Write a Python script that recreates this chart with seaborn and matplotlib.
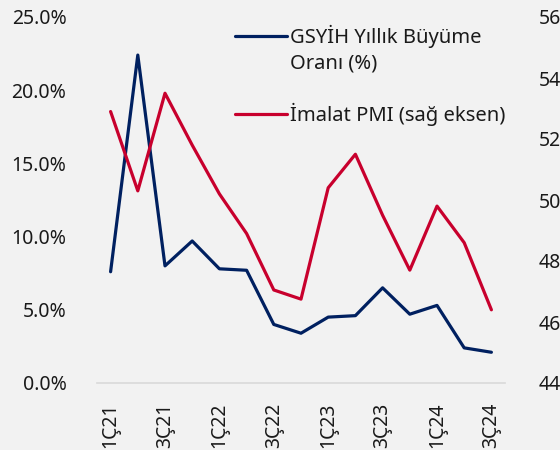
import numpy as np
import matplotlib
matplotlib.use('Agg')
import matplotlib.pyplot as plt
import matplotlib.ticker as mtick
import seaborn as sns
import pandas as pd

sns.set_style('white')
plt.rcParams['font.family'] = ['Noto Sans', 'DejaVu Sans']

quarters = ['1Ç21', '2Ç21', '3Ç21', '4Ç21', '1Ç22', '2Ç22', '3Ç22', '4Ç22',
            '1Ç23', '2Ç23', '3Ç23', '4Ç23', '1Ç24', '2Ç24', '3Ç24']
gdp_growth = [7.6, 22.4, 8.0, 9.7, 7.8, 7.7, 4.0, 3.4,
              4.5, 4.6, 6.5, 4.7, 5.3, 2.4, 2.1]
pmi = [52.9, 50.3, 53.5, 51.8, 50.2, 48.9, 47.05, 46.75,
       50.4, 51.5, 49.5, 47.7, 49.8, 48.6, 46.4]

df = pd.DataFrame({'idx': np.arange(len(quarters)), 'q': quarters,
                   'gdp': gdp_growth, 'pmi': pmi})

bg = '#F2F2F2'
navy = '#002060'
red = '#C8002D'

fig = plt.figure(figsize=(5.6, 4.5), dpi=100, facecolor=bg)
ax = fig.add_axes([97 / 560, 67 / 450, 408 / 560, 366 / 450])
ax.set_facecolor(bg)
ax2 = ax.twinx()

sns.lineplot(data=df, x='idx', y='gdp', ax=ax, color=navy, linewidth=2.3,
             label='GSYİH Yıllık Büyüme\nOranı (%)', legend=False)
sns.lineplot(data=df, x='idx', y='pmi', ax=ax2, color=red, linewidth=2.3,
             label='İmalat PMI (sağ eksen)', legend=False)

ax.set_xlim(-0.5, len(quarters) - 0.5)
ax.set_ylim(0, 25)
ax.set_yticks([0, 5, 10, 15, 20, 25])
ax.yaxis.set_major_formatter(mtick.FuncFormatter(lambda v, p: f'{v:.1f}%'))
ax2.set_ylim(44, 56)
ax2.set_yticks([44, 46, 48, 50, 52, 54, 56])

ax.set_xticks(df['idx'][::2])
ax.set_xticklabels(df['q'][::2], rotation=90)
ax.set_xlabel('')
ax.set_ylabel('')
ax2.set_ylabel('')

for a in (ax, ax2):
    for s in a.spines.values():
        s.set_visible(False)
    a.tick_params(length=0, labelsize=14, colors='#1a1a1a')
ax.spines['bottom'].set_visible(True)
ax.spines['bottom'].set_color('#D9D9D9')
ax.spines['bottom'].set_linewidth(1.2)
ax.tick_params(axis='y', pad=22)
ax.tick_params(axis='x', pad=14)
ax2.tick_params(axis='y', pad=24)

h1, l1 = ax.get_legend_handles_labels()
h2, l2 = ax2.get_legend_handles_labels()
leg = ax2.legend(h1 + h2, l1 + l2, loc='upper left',
                 bbox_to_anchor=(235 / 560, 1 - 25 / 450),
                 bbox_transform=fig.transFigure, frameon=False,
                 fontsize=14.5, handlelength=2.6, handletextpad=0.15,
                 labelspacing=1.45, borderpad=0, borderaxespad=0)
for t in leg.get_texts():
    t.set_color('#1a1a1a')
    t.set_linespacing(1.35)
# put the first handle level with the first text line
hl = leg.legend_handles[0]
hl.set_ydata(np.asarray(hl.get_ydata()) + 10)

fig.savefig('out.png', dpi=100, facecolor=bg)
